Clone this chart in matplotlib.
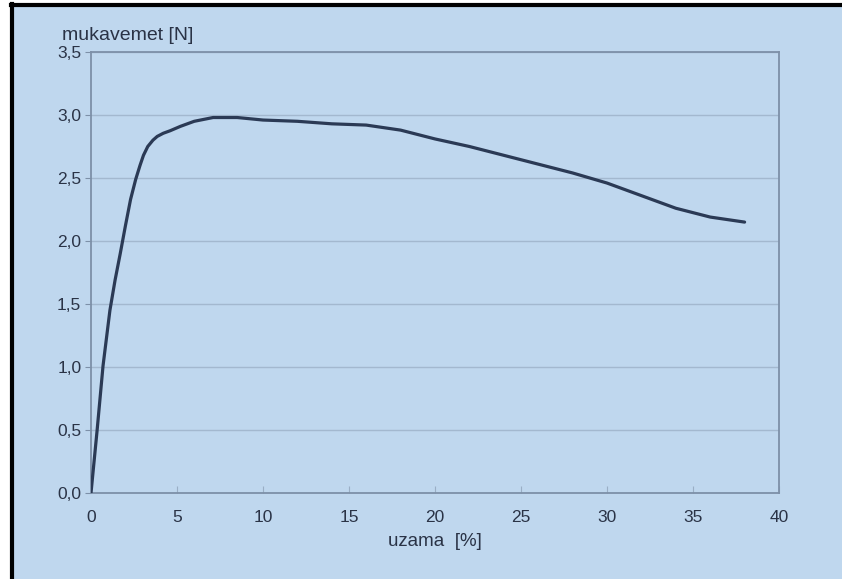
import matplotlib.pyplot as plt
from matplotlib.lines import Line2D
from matplotlib.patches import Rectangle
from matplotlib.ticker import FuncFormatter

# uzama [%] vs mukavemet [N]
uzama = [0, 0.35, 0.7, 1.1, 1.4, 1.7, 2.0, 2.3, 2.6, 2.85, 3.05, 3.3, 3.6, 3.85, 4.2, 4.6,
         5.2, 6.0, 7.1, 8.5, 10, 12, 14, 16, 18, 20, 22, 24, 26, 28, 30, 32, 34, 36, 38]
mukavemet = [0, 0.49, 1.01, 1.45, 1.69, 1.9, 2.12, 2.33, 2.49, 2.6, 2.68, 2.75, 2.8, 2.83,
             2.855, 2.875, 2.91, 2.95, 2.98, 2.98, 2.96, 2.95, 2.93, 2.92, 2.88, 2.81, 2.75,
             2.68, 2.61, 2.54, 2.46, 2.36, 2.26, 2.19, 2.15]

x_ticks = [0, 5, 10, 15, 20, 25, 30, 35, 40]
y_ticks = [0.0, 0.5, 1.0, 1.5, 2.0, 2.5, 3.0, 3.5]

bg = '#bfd7ee'
spine_col = '#7d90a8'
text_col = '#2a3346'

plt.rcParams['font.family'] = ['Liberation Sans', 'DejaVu Sans']

fig = plt.figure(figsize=(8.42, 5.79), dpi=100, facecolor=bg)
ax = fig.add_axes([91 / 842, 1 - 493 / 579, (779 - 91) / 842, (493 - 52) / 579])
ax.set_facecolor(bg)

ax.plot(uzama, mukavemet, color='#2b3a55', lw=2.3, solid_capstyle='round',
        solid_joinstyle='round', zorder=3)

ax.set_xlim(0, 40)
ax.set_ylim(0, 3.5)
ax.set_xticks(x_ticks)
ax.set_yticks(y_ticks)
ax.yaxis.set_major_formatter(FuncFormatter(lambda v, p: f'{v:.1f}'.replace('.', ',')))

ax.grid(axis='y', color='#a3b8cf', lw=1.0)
ax.set_axisbelow(True)
for s in ax.spines.values():
    s.set_color(spine_col)
    s.set_linewidth(1.3)

ax.tick_params(axis='x', direction='in', length=5, color='#9aaec5', labelsize=12.5,
               labelcolor=text_col, pad=12)
ax.tick_params(axis='y', direction='out', length=4, color=spine_col, labelsize=12.5,
               labelcolor=text_col, pad=3)

fig.text(62 / 842, 1 - 36 / 579, 'mukavemet [N]', fontsize=14, color=text_col,
         ha='left', va='center')
ax.set_xlabel('uzama  [%]', fontsize=13.5, color=text_col, labelpad=6)

# white margin and black frame around the picture
fig.add_artist(Rectangle((0, 0), 10 / 842, 1, transform=fig.transFigure,
                         facecolor='white', edgecolor='none'))
fig.add_artist(Rectangle((0, 1 - 3 / 579), 1, 3 / 579, transform=fig.transFigure,
                         facecolor='white', edgecolor='none'))
fig.add_artist(Line2D([12 / 842, 12 / 842], [0, 1 - 4 / 579], transform=fig.transFigure,
                      color='black', lw=3))
fig.add_artist(Line2D([11 / 842, 1], [1 - 5 / 579, 1 - 5 / 579], transform=fig.transFigure,
                      color='black', lw=3))

fig.savefig('out.png', dpi=100, facecolor=bg)
